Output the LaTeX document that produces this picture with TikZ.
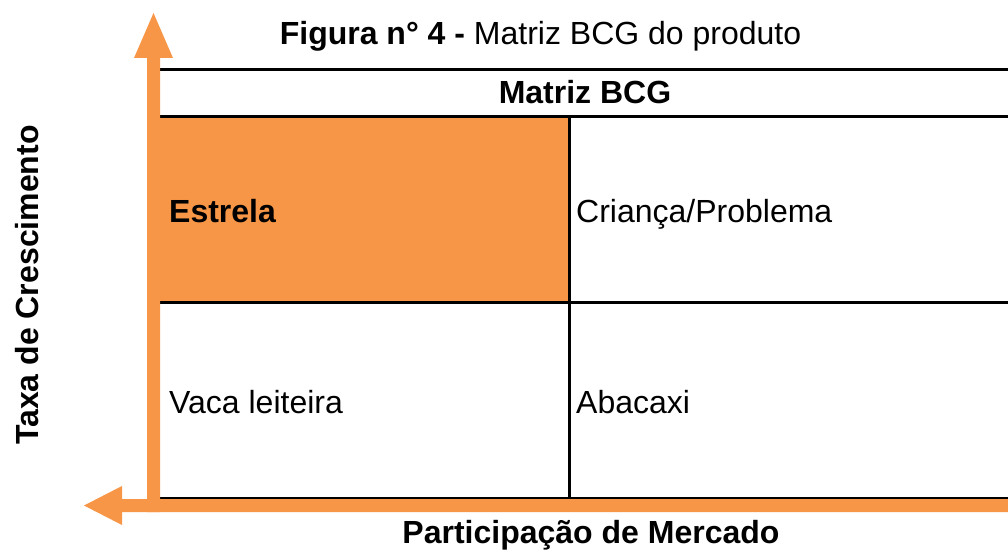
\documentclass[tikz,border=0pt]{standalone}
\usepackage{fontspec}
\setmainfont{Liberation Sans}
\definecolor{bcgorange}{HTML}{F79646}
\begin{document}
\begin{tikzpicture}[x=1pt,y=-1pt,
  txt/.style={inner sep=0pt,font=\fontsize{32}{38}\selectfont},
  btxt/.style={txt,font=\fontsize{32}{38}\selectfont\bfseries},
  grid/.style={line width=3pt,black},
  axis/.style={fill=bcgorange,draw=none}]
\useasboundingbox (0,0) rectangle (1008,556);
% orange cell
\fill[bcgorange] (160,118.5) rectangle (567.5,301.5);
% table lines
\draw[grid] (160,70) -- (1008,70);
\draw[grid] (160,117) -- (1008,117);
\draw[grid] (160,302) -- (1008,302);
\draw[grid] (160,498.5) -- (1008,498.5);
\draw[grid] (569,117) -- (569,498);
% axes
\fill[axis] (147,512) -- (147,58) -- (134,58) -- (153.5,13) -- (173,58) -- (160,58) -- (160,512) -- cycle;
\fill[axis] (1008,499) -- (122,499) -- (122,486) -- (84,505.5) -- (122,525) -- (122,512) -- (1008,512) -- cycle;
% texts
\node[txt,anchor=base] (title) at (540.5,45) {\textbf{Figura n° 4 -} Matriz BCG do produto};
\node[btxt,anchor=base] (head) at (585,104) {Matriz BCG};
\node[btxt,anchor=base west] (star) at (169,222) {Estrela};
\node[txt,anchor=base west] (child) at (576,222) {Criança/Problema};
\node[txt,anchor=base west] (cow) at (169,413) {Vaca leiteira};
\node[txt,anchor=base west] (pine) at (576,413) {Abacaxi};
\node[btxt,anchor=base] (xlab) at (591,543) {Participação de Mercado};
\node[btxt,anchor=base,rotate=90] (ylab) at (38,285) {Taxa de Crescimento};
\end{tikzpicture}
\end{document}
